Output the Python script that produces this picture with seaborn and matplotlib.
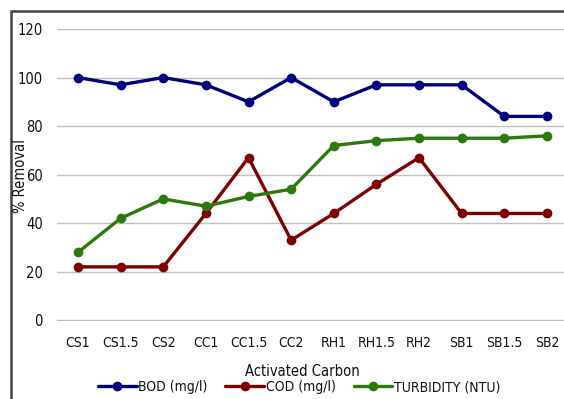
import matplotlib
matplotlib.use("Agg")
import matplotlib.pyplot as plt
import seaborn as sns
import pandas as pd
from matplotlib.lines import Line2D
from matplotlib.patches import Rectangle

categories = ["CS1", "CS1.5", "CS2", "CC1", "CC1.5", "CC2",
              "RH1", "RH1.5", "RH2", "SB1", "SB1.5", "SB2"]
bod = [100, 97, 100, 97, 90, 100, 90, 97, 97, 97, 84, 84]
cod = [22, 22, 22, 44, 67, 33, 44, 56, 67, 44, 44, 44]
turbidity = [28, 42, 50, 47, 51, 54, 72, 74, 75, 75, 75, 76]
series_names = ["BOD (mg/l)", "COD (mg/l)", "TURBIDITY (NTU)"]
yticks = [0, 20, 40, 60, 80, 100, 120]

colors = ["#000080", "#800000", "#2B7A0B"]

sns.set_theme(style="white")
plt.rcParams["font.family"] = ["DejaVu Sans"]
plt.rcParams["font.stretch"] = "condensed"
plt.rcParams["text.color"] = "#111111"

rows = []
for name, vals in zip(series_names, [bod, cod, turbidity]):
    for c, v in zip(categories, vals):
        rows.append({"Activated Carbon": c, "value": v, "series": name})
df = pd.DataFrame(rows)

fig = plt.figure(figsize=(5.64, 3.99), dpi=100)
ax = fig.add_axes([0.1005, 0.1955, 0.907, 0.7318])

sns.lineplot(data=df, x="Activated Carbon", y="value", hue="series",
             palette=colors, hue_order=series_names, sort=False,
             marker="o", markersize=7, markeredgewidth=0, linewidth=2.4,
             legend=False, ax=ax, clip_on=False, zorder=3)

ax.set_xlim(-0.5, len(categories) - 0.5)
ax.set_ylim(-0.3, 120)
ax.set_yticks(yticks)
ax.set_yticklabels([str(t) for t in yticks], fontsize=10.5, color="#111111")
ax.set_xticks(range(len(categories)))
ax.set_xticklabels(categories, fontsize=10, color="#111111")
ax.tick_params(axis="x", length=0, pad=11)
ax.tick_params(axis="y", length=0, pad=10)
ax.grid(axis="y", color="#BFBFBF", linewidth=1)
ax.set_axisbelow(True)
for s in ax.spines.values():
    s.set_visible(False)
ax.set_xlabel("")
ax.set_ylabel("")

fig.text(0.537, 0.068, "Activated Carbon", ha="center", va="center", fontsize=10.5)
fig.text(0.036, 0.558, "% Removal", ha="center", va="center", rotation=90, fontsize=10.5)

handles = [Line2D([0], [0], color=c, lw=2.4, marker="o", markersize=7,
                  markeredgewidth=0) for c in colors]
fig.legend(handles, series_names, loc="center", bbox_to_anchor=(0.53, 0.03),
           ncol=3, frameon=False, fontsize=10, handlelength=2.8,
           handletextpad=0.1, columnspacing=1.3, borderpad=0)

# outer chart frame (top and left edges visible)
fig.patches.append(Rectangle((10.5 / 564, -0.1), 1.2, 1.1 - 10.5 / 399,
                             transform=fig.transFigure, fill=False,
                             edgecolor="#444444", linewidth=1.8))

fig.savefig("out.png", dpi=100)
